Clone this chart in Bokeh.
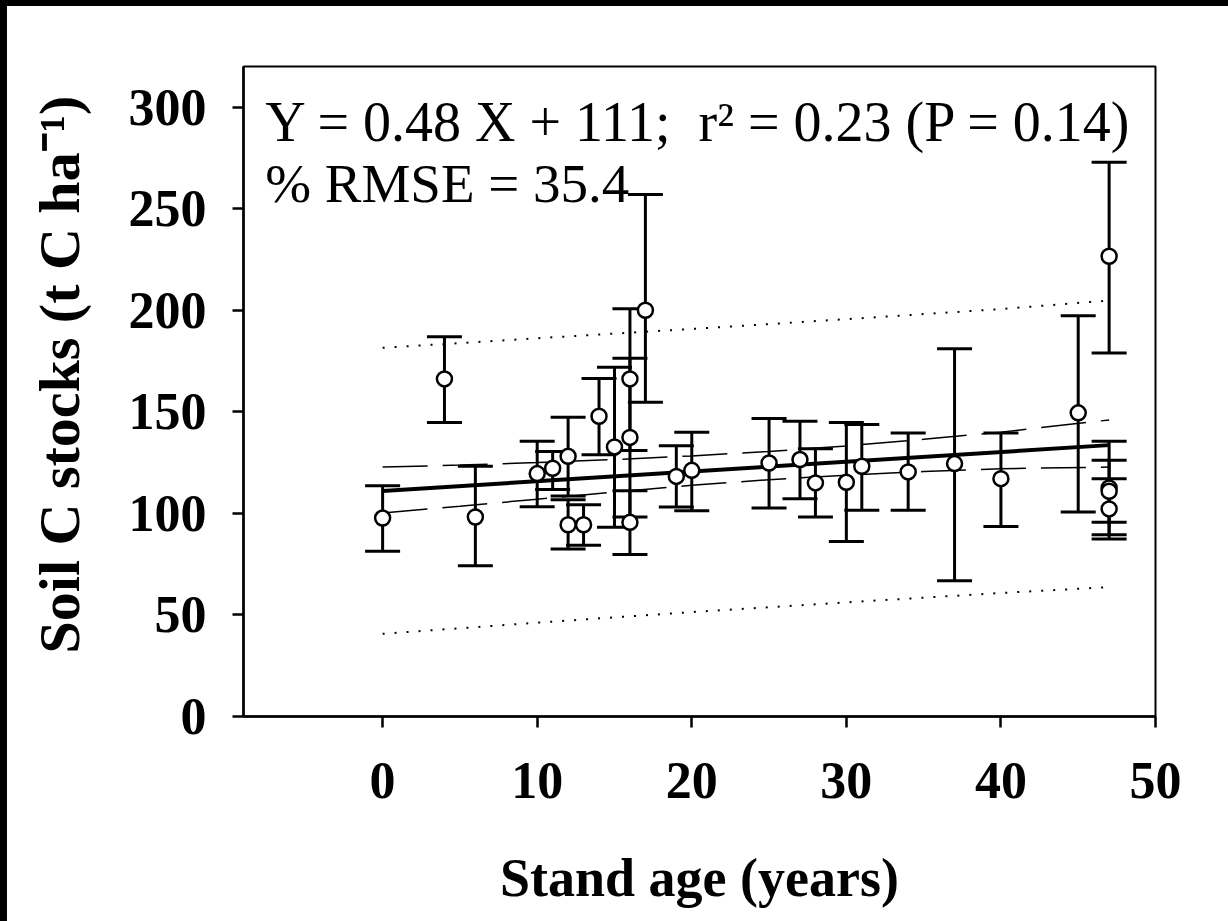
from bokeh.plotting import figure
from bokeh.models import Range1d, FixedTicker, Whisker, TeeHead, ColumnDataSource, Label
from bokeh.embed import file_html
from bokeh.resources import INLINE

# ---- data ----
age = [0, 4, 6, 10, 11, 12, 12, 13, 14, 15, 16, 16, 16, 17, 19, 20,
       25, 27, 28, 30, 31, 34, 37, 40, 45, 47, 47, 47, 47]
soc = [97.7, 166.2, 98.2, 119.6, 122.2, 128.1, 94.4, 94.4, 147.8, 132.7,
       166.2, 137.4, 95.6, 200.0, 118.2, 121.2, 124.8, 126.5, 115.0, 115.3,
       123.2, 120.4, 124.5, 117.1, 149.5, 226.6, 112.5, 110.9, 102.2]
soc_hi = [113.6, 186.9, 123.2, 135.5, 130.5, 147.3, 106.7, 104.3, 166.4, 171.9,
          200.8, 176.4, 111.2, 257.0, 133.3, 139.9, 146.7, 145.3, 131.8, 144.8,
          143.7, 139.6, 181.1, 139.6, 197.3, 272.9, 135.5, 126.1, 117.0]
soc_lo = [81.3, 144.8, 74.2, 103.3, 111.7, 108.5, 82.5, 84.3, 128.9, 93.2,
          131.0, 98.2, 79.8, 154.7, 103.1, 101.3, 102.7, 107.2, 98.2, 86.2,
          101.5, 101.5, 66.8, 93.6, 100.7, 179.0, 89.5, 95.6, 87.4]

fit_x = [0, 47]
fit_y = [111.0, 133.6]

conf_x = [0, 5, 10, 15, 20, 25, 30, 35, 40, 47]
conf_hi = [122.8, 123.8, 125.0, 126.5, 128.3, 130.5, 133.2, 136.5, 140.0, 146.0]
conf_lo = [100.2, 103.5, 107.0, 110.5, 113.8, 116.6, 118.8, 120.6, 122.0, 122.8]

pred_x = [0, 10, 20, 30, 40, 47]
pred_hi = [181.5, 186.2, 190.8, 195.6, 200.6, 204.8]
pred_lo = [40.7, 46.2, 51.4, 56.2, 60.8, 63.7]

x_ticks = [0, 10, 20, 30, 40, 50]
y_ticks = [0, 50, 100, 150, 200, 250, 300]

eq_text = "Y = 0.48 X + 111;\u00a0\u00a0r\u00b2 = 0.23 (P = 0.14)"
rmse_text = "% RMSE = 35.4"
x_title = "Stand age (years)"
# leading no-break spaces nudge the rotated title upward, as in the original
y_title = "\u00a0\u00a0\u200aSoil C stocks (t C ha\u207b\u00b9)"

FONT = "Liberation Serif"

p = figure(width=1228, height=921, x_range=Range1d(-9, 50), y_range=Range1d(0, 320),
           output_backend="svg", toolbar_location=None,
           min_border_left=243, min_border_right=73, min_border_top=66, min_border_bottom=205)
p.background_fill_color = "white"
p.border_fill_color = "white"
p.xgrid.visible = False
p.ygrid.visible = False
p.outline_line_color = "black"
p.outline_line_width = 2
p.outline_line_alpha = 1.0

for ax in (p.xaxis[0], p.yaxis[0]):
    ax.axis_line_width = 2.5
    ax.axis_line_color = "black"
    ax.major_tick_line_width = 2.5
    ax.major_tick_line_color = "black"
    ax.major_tick_in = 0
    ax.major_tick_out = 11
    ax.minor_tick_line_color = None
    ax.major_label_text_font = FONT
    ax.major_label_text_font_style = "bold"
    ax.major_label_text_font_size = "52px"
    ax.major_label_text_color = "black"
    ax.axis_label_text_font = FONT
    ax.axis_label_text_font_style = "bold"
    ax.axis_label_text_color = "black"

p.xaxis.ticker = FixedTicker(ticks=x_ticks)
p.yaxis.ticker = FixedTicker(ticks=y_ticks)
p.xaxis.major_label_standoff = 35
p.yaxis.major_label_standoff = 26
p.xaxis.axis_label = x_title
p.yaxis.axis_label = y_title
p.xaxis.axis_label_text_font_size = "54px"
p.yaxis.axis_label_text_font_size = "58px"
p.xaxis.axis_label_standoff = 47
p.yaxis.axis_label_standoff = 34

src = ColumnDataSource(dict(age=age, soc=soc, hi=soc_hi, lo=soc_lo))
w = Whisker(source=src, base="age", upper="hi", lower="lo",
            line_color="black", line_width=3,
            upper_head=TeeHead(size=35, line_color="black", line_width=3),
            lower_head=TeeHead(size=35, line_color="black", line_width=3))
w.level = "underlay"
p.add_layout(w)

p.line(pred_x, pred_hi, line_color="black", line_width=2, line_dash="2 10")
p.line(pred_x, pred_lo, line_color="black", line_width=2, line_dash="2 10")
p.line(conf_x, conf_hi, line_color="black", line_width=1.5, line_dash="45 15")
p.line(conf_x, conf_lo, line_color="black", line_width=1.5, line_dash="45 15")
p.line(fit_x, fit_y, line_color="black", line_width=4)

p.scatter("age", "soc", source=src, marker="circle", size=15,
          fill_color="white", line_color="black", line_width=2.5)

p.add_layout(Label(x=-7.6, y=292.9, text=eq_text, text_font=FONT,
                   text_font_size="56px", text_color="black", text_baseline="alphabetic"))
p.add_layout(Label(x=-7.6, y=262.4, text=rmse_text, text_font=FONT,
                   text_font_size="55px", text_color="black", text_baseline="alphabetic"))

html = file_html(p, INLINE)
style = ("<style>body::before{content:'';position:fixed;left:0;top:0;width:7px;height:100%;"
         "background:#000;z-index:1000;}"
         "body::after{content:'';position:fixed;left:0;top:0;width:100%;height:6px;"
         "background:#000;z-index:1000;}</style></head>")
html = html.replace("</head>", style, 1)
open("out.html", "w").write(html)
